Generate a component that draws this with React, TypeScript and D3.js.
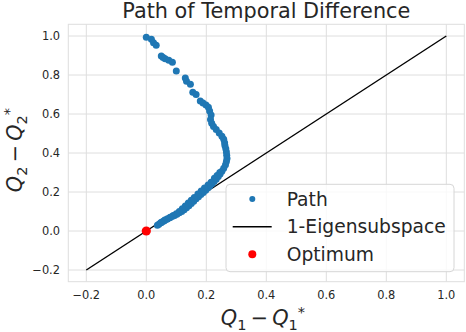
import * as d3 from 'd3';
import React, { useEffect, useRef } from 'react';

// path of the TD iterates (Q1 - Q1*, Q2 - Q2*)
const pathQ1 = [
  0.000, 0.017, 0.024, 0.033, 0.050, 0.056, 0.063, 0.075, 0.087, 0.100,
  0.130, 0.134, 0.147, 0.155, 0.166, 0.180, 0.189, 0.199, 0.207, 0.211,
  0.216, 0.214, 0.218, 0.224, 0.233, 0.243, 0.252, 0.258, 0.261, 0.262,
  0.265, 0.267, 0.268, 0.269, 0.267, 0.264, 0.258, 0.252, 0.246, 0.240,
  0.233, 0.226, 0.219, 0.212, 0.205, 0.198, 0.190, 0.182, 0.174, 0.166,
  0.158, 0.150, 0.142, 0.134, 0.126, 0.118, 0.110, 0.102, 0.094, 0.086,
  0.078, 0.070, 0.062, 0.055, 0.048, 0.042, 0.037,
  0.245, 0.236, 0.227, 0.216, 0.206, 0.194, 0.183, 0.172, 0.160, 0.150,
  0.140, 0.130, 0.120, 0.110, 0.100, 0.090, 0.080, 0.070, 0.060, 0.050
];
const pathQ2 = [
  0.993, 0.983, 0.966, 0.952, 0.897, 0.890, 0.883, 0.876, 0.866, 0.820,
  0.784, 0.768, 0.752, 0.712, 0.700, 0.667, 0.656, 0.646, 0.634, 0.615,
  0.595, 0.572, 0.553, 0.536, 0.520, 0.503, 0.486, 0.470, 0.452, 0.438,
  0.422, 0.405, 0.388, 0.372, 0.356, 0.340, 0.322, 0.306, 0.292, 0.279,
  0.266, 0.254, 0.242, 0.231, 0.220, 0.209, 0.198, 0.187, 0.176, 0.165,
  0.153, 0.141, 0.130, 0.119, 0.109, 0.100, 0.093, 0.086, 0.080, 0.074,
  0.068, 0.062, 0.056, 0.049, 0.042, 0.035, 0.030,
  0.300, 0.285, 0.270, 0.250, 0.236, 0.220, 0.205, 0.190, 0.172, 0.158,
  0.143, 0.128, 0.114, 0.100, 0.089, 0.079, 0.070, 0.061, 0.053, 0.044
];

// 1-eigensubspace (the diagonal)
const eigenQ1 = [-0.2, 1.0];
const eigenQ2 = [-0.2, 1.0];

const optimumQ1 = [0];
const optimumQ2 = [0];

const xTicks = [-0.2, 0.0, 0.2, 0.4, 0.6, 0.8, 1.0];
const yTicks = [-0.2, 0.0, 0.2, 0.4, 0.6, 0.8, 1.0];
const legendLabels = ['Path', '1-Eigensubspace', 'Optimum'];

const W = 466;
const H = 332;
const margin = {top: 24.3, right: 1.7, bottom: 50.3, left: 68.3};
const font = '"DejaVu Sans", sans-serif';
const blue = '#1f77b4';
const red = '#ff0000';
const grid = '#dedede';
const ink = '#262626';

function mathLabel(t: any, idx: string, size: number) {
  const small = size * 0.7;
  t.append('tspan').attr('font-style', 'italic').text('Q');
  t.append('tspan').attr('font-size', small).attr('dy', size * 0.22).text(idx);
  t.append('tspan').attr('dy', -size * 0.22).text('\u2009\u2212\u2009');
  t.append('tspan').attr('font-style', 'italic').text('Q');
  t.append('tspan').attr('font-size', small).attr('dy', size * 0.22).text(idx);
  t.append('tspan').attr('font-size', small)
    .attr('dx', 0).attr('dy', -size * 0.62).text('*');
}

export default function App() {
  const ref = useRef<SVGSVGElement>(null);

  useEffect(() => {
    const svg = d3.select(ref.current);
    svg.selectAll('*').remove();
    const w = W - margin.left - margin.right;
    const h = H - margin.top - margin.bottom;
    const x = d3.scaleLinear().domain([-0.26, 1.06]).range([0, w]);
    const y = d3.scaleLinear().domain([-0.26, 1.06]).range([h, 0]);

    const g = svg.append('g')
      .attr('transform', `translate(${margin.left}, ${margin.top})`);

    // grid
    g.selectAll('.gx').data(xTicks).enter().append('line')
      .attr('x1', d => x(d)).attr('x2', d => x(d))
      .attr('y1', 0).attr('y2', h)
      .attr('stroke', grid).attr('stroke-width', 1);
    g.selectAll('.gy').data(yTicks).enter().append('line')
      .attr('x1', 0).attr('x2', w)
      .attr('y1', d => y(d)).attr('y2', d => y(d))
      .attr('stroke', grid).attr('stroke-width', 1);
    g.append('rect')
      .attr('width', w).attr('height', h)
      .attr('fill', 'none').attr('stroke', grid).attr('stroke-width', 1);

    // tick labels
    g.selectAll('.tx').data(xTicks).enter().append('text')
      .attr('x', d => x(d)).attr('y', h + 17.5)
      .attr('text-anchor', 'middle')
      .attr('font-family', font).attr('font-size', 11.4).attr('fill', ink)
      .text(d => d3.format('.1f')(d).replace('-', '\u2212'));
    g.selectAll('.ty').data(yTicks).enter().append('text')
      .attr('x', -8.3).attr('y', d => y(d)).attr('dy', '0.36em')
      .attr('text-anchor', 'end')
      .attr('font-family', font).attr('font-size', 11.4).attr('fill', ink)
      .text(d => d3.format('.1f')(d).replace('-', '\u2212'));

    // eigen line
    const line = d3.line<number>()
      .x((d, i) => x(eigenQ1[i]))
      .y(d => y(d));
    g.append('path')
      .attr('d', line(eigenQ2))
      .attr('fill', 'none').attr('stroke', '#000').attr('stroke-width', 1.4);

    // path points
    g.selectAll('.pt').data(pathQ1).enter().append('circle')
      .attr('cx', d => x(d))
      .attr('cy', (d, i) => y(pathQ2[i]))
      .attr('r', 3.5)
      .attr('fill', blue);

    // optimum
    g.selectAll('.opt').data(optimumQ1).enter().append('circle')
      .attr('cx', d => x(d))
      .attr('cy', (d, i) => y(optimumQ2[i]))
      .attr('r', 4.6)
      .attr('fill', red);

    // legend
    const lg = svg.append('g').attr('transform', 'translate(226, 184.3)');
    lg.append('rect')
      .attr('width', 228).attr('height', 87.4).attr('rx', 4)
      .attr('fill', '#fff').attr('fill-opacity', 0.8)
      .attr('stroke', '#d6d6d6').attr('stroke-width', 1);
    const rows = [14.7, 42.4, 70];
    lg.append('circle').attr('cx', 26.3).attr('cy', rows[0]).attr('r', 3).attr('fill', blue);
    lg.append('line').attr('x1', 6.7).attr('x2', 45.7)
      .attr('y1', rows[1]).attr('y2', rows[1])
      .attr('stroke', '#000').attr('stroke-width', 1.4);
    lg.append('circle').attr('cx', 26.3).attr('cy', rows[2]).attr('r', 4).attr('fill', red);
    lg.selectAll('.lt').data(legendLabels).enter().append('text')
      .attr('x', 60.7).attr('y', (d, i) => rows[i]).attr('dy', '0.36em')
      .attr('font-family', font).attr('font-size', 18.7).attr('fill', ink)
      .text(d => d);

    // title
    svg.append('text')
      .attr('x', margin.left + w / 2).attr('y', 18.3)
      .attr('text-anchor', 'middle')
      .attr('font-family', font).attr('font-size', 20.8).attr('fill', ink)
      .text('Path of Temporal Difference');

    // axis labels
    const xl = svg.append('text')
      .attr('x', 263).attr('y', 325)
      .attr('text-anchor', 'middle')
      .attr('font-family', font).attr('font-size', 20.8).attr('fill', ink)
      .style('white-space', 'pre');
    mathLabel(xl, '1', 20.8);
    const yl = svg.append('text')
      .attr('transform', 'translate(22, 150) rotate(-90)')
      .attr('text-anchor', 'middle')
      .attr('font-family', font).attr('font-size', 20.8).attr('fill', ink)
      .style('white-space', 'pre');
    mathLabel(yl, '2', 20.8);
  }, []);

  return (
    <svg ref={ref} width={W} height={H}
      style={{position: 'absolute', left: 0, top: 0, background: '#fff'}} />
  );
}
